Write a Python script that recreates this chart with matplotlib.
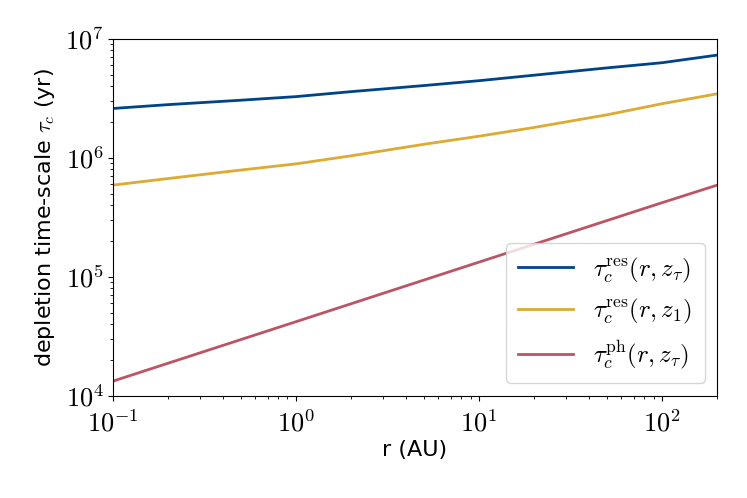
import math
import matplotlib
matplotlib.use("Agg")
import matplotlib.pyplot as plt
from matplotlib.ticker import FuncFormatter

# Valores (r en AU, tiempo en años)
r_res = [0.1, 0.2, 0.5, 1, 2, 5, 10, 20, 50, 100, 200]
tau_res_ztau = [2.6e6, 2.8e6, 3.05e6, 3.27e6, 3.6e6, 4.05e6, 4.45e6, 4.95e6, 5.7e6, 6.3e6, 7.3e6]
tau_res_z1 = [5.9e5, 6.7e5, 7.9e5, 8.9e5, 1.04e6, 1.3e6, 1.52e6, 1.8e6, 2.3e6, 2.85e6, 3.45e6]

r_ph = [0.1, 1, 10, 100, 200]
tau_ph_ztau = [1.33e4, 4.2e4, 1.33e5, 4.2e5, 5.9e5]

plt.rcParams["mathtext.fontset"] = "cm"
plt.rcParams["font.family"] = "DejaVu Sans"

fig = plt.figure(figsize=(7.47, 4.98), dpi=100)
ax = fig.add_axes([0.151, 0.205, 0.809, 0.717])

ax.plot(r_res, tau_res_ztau, color="#004488", lw=2, label=r"$\tau_c^{\mathrm{res}}(r, z_\tau)$")
ax.plot(r_res, tau_res_z1, color="#DDAA33", lw=2, label=r"$\tau_c^{\mathrm{res}}(r, z_1)$")
ax.plot(r_ph, tau_ph_ztau, color="#BB5566", lw=2, label=r"$\tau_c^{\mathrm{ph}}(r, z_\tau)$")

ax.set_xscale("log")
ax.set_yscale("log")
ax.set_xlim(0.1, 200)
ax.set_ylim(1e4, 1e7)

fmt = FuncFormatter(lambda v, p: r"$10^{%d}$" % round(math.log10(v)))
ax.xaxis.set_major_formatter(fmt)
ax.yaxis.set_major_formatter(fmt)
ax.tick_params(labelsize=19)
ax.tick_params(axis="x", pad=7)
ax.tick_params(axis="y", pad=3)

ax.set_xlabel(r"r (AU)", fontsize=16, labelpad=2)
ax.set_ylabel(r"depletion time-scale $\tau_c$ (yr)", fontsize=16, labelpad=6)

ax.legend(loc="lower right", fontsize=18, handlelength=2.2, borderpad=0.5, labelspacing=0.5)

fig.savefig("out.png", dpi=100)
